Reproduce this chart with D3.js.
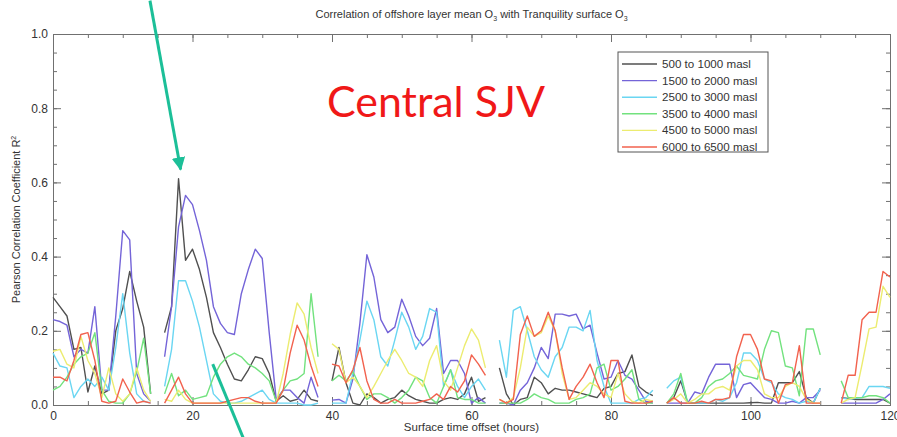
<!DOCTYPE html>
<html>
<head>
<meta charset="utf-8">
<script src="https://cdn.jsdelivr.net/npm/d3@7"></script>
<style>
  body { margin: 0; background: #fff; }
  svg { display: block; font-family: "Liberation Sans", Arial, sans-serif; }
  .axis path, .axis line { stroke: #707070; }
  .axis text { fill: #333; font-size: 12px; }
</style>
</head>
<body>
<div id="chart"></div>
<script>
// hourly correlation values, 0..120 h, null = gap between runs
const hours = d3.range(0, 121);

const layer500 = [0.29,0.265,0.24,0.15,0.155,0.035,0.105,0.03,0.04,0.2,0.26,0.36,0.28,0.21,0.03,null,
  0.195,0.265,0.61,0.39,0.42,0.365,0.29,0.195,0.155,0.11,0.07,0.065,0.095,0.13,0.125,0.085,0.01,0.025,0.01,0.015,0.04,0.015,0.01,null,
  0.065,0.155,0.06,0.005,0.0,0.03,0.02,0.005,0.015,0.02,0.04,0.025,0.015,0.01,0.005,0.005,0.015,0.02,0.015,0.03,0.075,0.01,0.02,null,
  0.1,0.03,0.0,0.015,0.02,0.075,0.06,0.03,0.045,0.04,0.04,0.035,0.03,0.025,0.02,0.045,0.05,0.085,0.09,0.135,0.05,0.035,0.025,null,
  0.005,0.02,0.065,0.005,0.005,0.005,0.005,0.005,0.005,0.005,0.005,0.005,0.006,0.007,0.005,0.005,0.06,0.06,0.06,0.09,0.02,0.005,0.045,null,null,
  0.02,0.018,0.015,0.015,0.015,0.015,0.015,0.005];

const layer1500 = [0.23,0.225,0.215,0.13,0.15,0.14,0.265,0.04,0.04,0.24,0.47,0.445,0.085,0.03,0.01,null,
  0.13,0.265,0.48,0.565,0.54,0.47,0.39,0.265,0.22,0.195,0.19,0.3,0.365,0.42,0.395,0.195,0.015,0.04,0.04,0.02,0.005,0.075,0.02,null,
  0.013,0.015,0.005,0.07,0.22,0.405,0.345,0.23,0.195,0.21,0.285,0.24,0.185,0.16,0.18,0.26,0.085,0.12,0.12,0.085,0.005,0.02,0.005,null,
  0.005,0.005,0.0,0.04,0.06,0.1,0.155,0.125,0.245,0.245,0.24,0.245,0.205,0.215,0.14,0.07,0.075,0.12,0.08,0.07,0.04,0.01,0.005,null,
  0.005,0.005,0.005,0.005,0.035,0.03,0.075,0.11,0.11,0.11,0.02,0.055,0.06,0.04,0.02,0.015,0.005,0.005,0.01,0.005,0.02,0.02,0.04,null,null,
  0.005,0.005,0.005,0.005,0.005,0.005,0.015,0.03];

const layer2500 = [0.14,0.105,0.1,0.02,0.05,0.07,0.05,0.075,0.04,0.155,0.3,0.14,0.03,0.01,0.005,null,
  0.05,0.15,0.335,0.335,0.28,0.21,0.12,0.03,0.01,0.005,0.005,0.01,0.02,0.03,0.04,0.015,0.005,0.005,0.005,0.005,0.0,0.0,0.005,null,
  0.005,0.005,0.005,0.085,0.175,0.28,0.23,0.13,0.105,0.175,0.25,0.21,0.15,0.185,0.26,0.25,0.05,0.095,0.05,0.02,0.05,0.07,0.04,null,
  0.175,0.075,0.255,0.265,0.2,0.13,0.095,0.075,0.13,0.155,0.21,0.21,0.2,0.255,0.12,0.05,0.005,0.005,0.005,0.005,0.015,0.02,0.04,null,
  0.045,0.065,0.075,0.005,0.005,0.005,0.005,0.015,0.01,0.02,0.06,0.14,0.14,0.12,0.07,0.06,0.03,0.02,0.015,0.005,0.01,0.005,0.045,null,null,
  0.02,0.015,0.018,0.02,0.05,0.05,0.05,0.045];

const layer3500 = [0.04,0.05,0.075,0.11,0.13,0.14,0.195,0.04,0.01,0.005,0.005,0.03,0.09,0.18,0.03,null,
  0.03,0.085,0.025,0.04,0.015,0.02,0.025,0.075,0.11,0.13,0.14,0.13,0.11,0.1,0.085,0.065,0.01,0.04,0.065,0.07,0.085,0.3,0.13,null,
  0.065,0.08,0.065,0.09,0.05,0.015,0.03,0.03,0.02,0.005,0.02,0.04,0.075,0.065,0.02,0.005,0.05,0.095,0.02,0.015,0.015,0.005,0.005,null,
  0.005,0.005,0.005,0.005,0.015,0.03,0.02,0.015,0.005,0.005,0.005,0.015,0.02,0.03,0.1,0.11,0.04,0.05,0.07,0.095,0.015,0.005,0.005,null,
  0.005,0.03,0.085,0.005,0.005,0.02,0.05,0.065,0.07,0.085,0.105,0.08,0.075,0.07,0.15,0.2,0.195,0.105,0.1,0.025,0.205,0.205,0.135,null,null,
  0.065,0.02,0.02,0.02,0.025,0.025,0.02,0.005];

const layer4500 = [0.145,0.15,0.11,0.1,0.185,0.12,0.085,0.02,0.1,0.03,0.01,0.03,0.1,0.04,0.01,null,
  0.015,0.01,0.04,0.015,0.005,0.005,0.005,0.005,0.005,0.005,0.005,0.005,0.005,0.005,0.005,0.005,0.005,0.085,0.19,0.275,0.245,0.155,0.085,null,
  0.165,0.15,0.06,0.075,0.05,0.02,0.05,0.085,0.12,0.15,0.12,0.085,0.075,0.05,0.12,0.16,0.065,0.04,0.1,0.16,0.205,0.175,0.1,null,
  0.015,0.005,0.02,0.1,0.21,0.185,0.195,0.24,0.2,0.085,0.015,0.02,0.04,0.06,0.05,0.03,0.02,0.085,0.03,0.01,0.005,0.015,0.01,null,
  0.005,0.015,0.03,0.005,0.015,0.03,0.03,0.045,0.05,0.04,0.105,0.12,0.12,0.095,0.03,0.02,0.02,0.05,0.06,0.05,0.015,0.005,0.005,null,null,
  0.005,0.015,0.02,0.11,0.205,0.21,0.32,0.29];

const layer6000 = [0.075,0.075,0.065,0.12,0.19,0.195,0.12,0.01,0.005,0.01,0.07,0.035,0.005,0.01,0.005,null,
  0.005,0.04,0.075,0.03,0.005,0.005,0.005,0.005,0.005,0.01,0.015,0.02,0.02,0.01,0.005,0.005,0.005,0.04,0.14,0.215,0.175,0.105,0.05,null,
  0.11,0.105,0.06,0.095,0.155,0.065,0.015,0.005,0.005,0.015,0.005,0.005,0.005,0.01,0.015,0.03,0.015,0.05,0.035,0.065,0.135,0.11,0.08,null,
  0.015,0.005,0.015,0.19,0.24,0.185,0.2,0.25,0.2,0.1,0.015,0.05,0.075,0.11,0.06,0.02,0.12,0.12,0.01,0.005,0.005,0.005,0.01,null,
  0.005,0.02,0.005,0.005,0.005,0.01,0.005,0.015,0.015,0.02,0.13,0.19,0.19,0.15,0.07,0.065,0.005,0.055,0.06,0.16,0.005,0.005,0.005,null,null,
  0.005,0.08,0.08,0.23,0.25,0.25,0.36,0.345];

const seriesNames = ["500 to 1000 masl", "1500 to 2000 masl", "2500 to 3000 masl",
  "3500 to 4000 masl", "4500 to 5000 masl", "6000 to 6500 masl"];
const seriesValues = [layer500, layer1500, layer2500, layer3500, layer4500, layer6000];
const seriesColors = ["#505050", "#7464d8", "#6ad6f2", "#72e27e", "#ecec70", "#f2624e"];

const xTicks = [0, 20, 40, 60, 80, 100, 120];
const yTicks = [0, 0.2, 0.4, 0.6, 0.8, 1.0];

const width = 897, height = 437;
const margin = {top: 34, right: 7, bottom: 32, left: 53};

const svg = d3.select("#chart").append("svg")
    .attr("width", width)
    .attr("height", height);

const x = d3.scaleLinear().domain([0, 120]).range([margin.left, width - margin.right]);
const y = d3.scaleLinear().domain([0, 1]).range([height - margin.bottom, margin.top]);

// frame with IDL style ticks on all sides
const minorX = d3.range(0, 121, 5), minorY = d3.range(0, 1.0001, 0.05);

function tickAxis(axis, g) {
  g.call(axis).attr("class", "axis");
  g.select(".domain").attr("stroke-width", 1);
}

svg.append("g").attr("transform", `translate(0,${y(0)})`)
    .call(g => tickAxis(d3.axisTop(x).tickValues(minorX).tickSize(4).tickFormat(""), g));
svg.append("g").attr("transform", `translate(0,${y(0)})`)
    .call(g => tickAxis(d3.axisTop(x).tickValues(xTicks).tickSize(8).tickFormat(""), g));
svg.append("g").attr("transform", `translate(0,${y(0)})`)
    .call(g => tickAxis(d3.axisBottom(x).tickValues(xTicks).tickSize(0).tickPadding(6).tickFormat(d3.format("d")), g))
    .select(".domain").remove();

svg.append("g").attr("transform", `translate(0,${y(1)})`)
    .call(g => tickAxis(d3.axisBottom(x).tickValues(minorX).tickSize(4).tickFormat(""), g));
svg.append("g").attr("transform", `translate(0,${y(1)})`)
    .call(g => tickAxis(d3.axisBottom(x).tickValues(xTicks).tickSize(8).tickFormat(""), g));

svg.append("g").attr("transform", `translate(${x(0)},0)`)
    .call(g => tickAxis(d3.axisRight(y).tickValues(minorY).tickSize(4).tickFormat(""), g));
svg.append("g").attr("transform", `translate(${x(0)},0)`)
    .call(g => tickAxis(d3.axisRight(y).tickValues(yTicks).tickSize(8).tickFormat(""), g));
svg.append("g").attr("transform", `translate(${x(0)},0)`)
    .call(g => tickAxis(d3.axisLeft(y).tickValues(yTicks).tickSize(0).tickPadding(5).tickFormat(d3.format(".1f")), g))
    .select(".domain").remove();

svg.append("g").attr("transform", `translate(${x(120)},0)`)
    .call(g => tickAxis(d3.axisLeft(y).tickValues(minorY).tickSize(4).tickFormat(""), g));
svg.append("g").attr("transform", `translate(${x(120)},0)`)
    .call(g => tickAxis(d3.axisLeft(y).tickValues(yTicks).tickSize(8).tickFormat(""), g));

// lines
const line = d3.line()
    .defined(d => d[1] != null)
    .x(d => x(d[0]))
    .y(d => y(d[1]));

svg.append("g")
    .selectAll("path")
    .data(seriesValues)
    .enter().append("path")
    .attr("fill", "none")
    .attr("stroke", (d, i) => seriesColors[i])
    .attr("stroke-width", 1.4)
    .attr("stroke-linejoin", "round")
    .attr("d", d => line(hours.map((h, i) => [h, d[i]])));

// title
const title = svg.append("text")
    .attr("x", x(60)).attr("y", 18)
    .attr("text-anchor", "middle")
    .attr("font-size", 11)
    .attr("fill", "#333");
title.append("tspan").text("Correlation of offshore layer mean O");
title.append("tspan").attr("font-size", 7).attr("dy", 3).text("3");
title.append("tspan").attr("dy", -3).text(" with Tranquility surface O");
title.append("tspan").attr("font-size", 7).attr("dy", 3).text("3");

// axis titles
svg.append("text")
    .attr("x", x(60)).attr("y", 431)
    .attr("text-anchor", "middle")
    .attr("font-size", 11.5)
    .attr("fill", "#333")
    .text("Surface time offset (hours)");

const ylab = svg.append("text")
    .attr("transform", `translate(20,${y(0.5)}) rotate(-90)`)
    .attr("text-anchor", "middle")
    .attr("font-size", 11)
    .attr("fill", "#333");
ylab.append("tspan").text("Pearson Correlation Coefficient R");
ylab.append("tspan").attr("font-size", 7).attr("dy", -4).text("2");

// legend
const legend = svg.append("g").attr("transform", "translate(618,52)");
legend.append("rect")
    .attr("width", 150).attr("height", 100)
    .attr("fill", "#fff").attr("stroke", "#555").attr("stroke-width", 1);
const rows = legend.selectAll("g.row")
    .data(seriesNames)
    .enter().append("g")
    .attr("class", "row")
    .attr("transform", (d, i) => `translate(0,${12 + i * 16.6})`);
rows.append("line")
    .attr("x1", 4).attr("x2", 39)
    .attr("stroke", (d, i) => seriesColors[i])
    .attr("stroke-width", 1.4);
rows.append("text")
    .attr("x", 44).attr("dy", "0.35em")
    .attr("font-size", 11.6)
    .attr("fill", "#333")
    .text(d => d);

// annotation
svg.append("text")
    .attr("x", 327).attr("y", 117)
    .attr("font-family", "Lato, 'Liberation Sans', sans-serif")
    .attr("font-size", 43)
    .attr("textLength", 218)
    .attr("lengthAdjust", "spacingAndGlyphs")
    .attr("fill", "#f01818")
    .text("Central SJV");

const teal = "#1cbf98";
svg.append("defs").append("marker")
    .attr("id", "head")
    .attr("viewBox", "0 0 10 10")
    .attr("refX", 9).attr("refY", 5)
    .attr("markerWidth", 4.5).attr("markerHeight", 4.5)
    .attr("orient", "auto")
    .append("path").attr("d", "M0,0L10,5L0,10z").attr("fill", teal);

svg.append("line")
    .attr("x1", x(13.9)).attr("y1", y(1.09))
    .attr("x2", x(18.3)).attr("y2", y(0.635))
    .attr("stroke", teal).attr("stroke-width", 3)
    .attr("marker-end", "url(#head)");

svg.append("line")
    .attr("x1", x(22.9)).attr("y1", y(0.11))
    .attr("x2", x(27.3)).attr("y2", y(-0.09))
    .attr("stroke", teal).attr("stroke-width", 3);
</script>
</body>
</html>
